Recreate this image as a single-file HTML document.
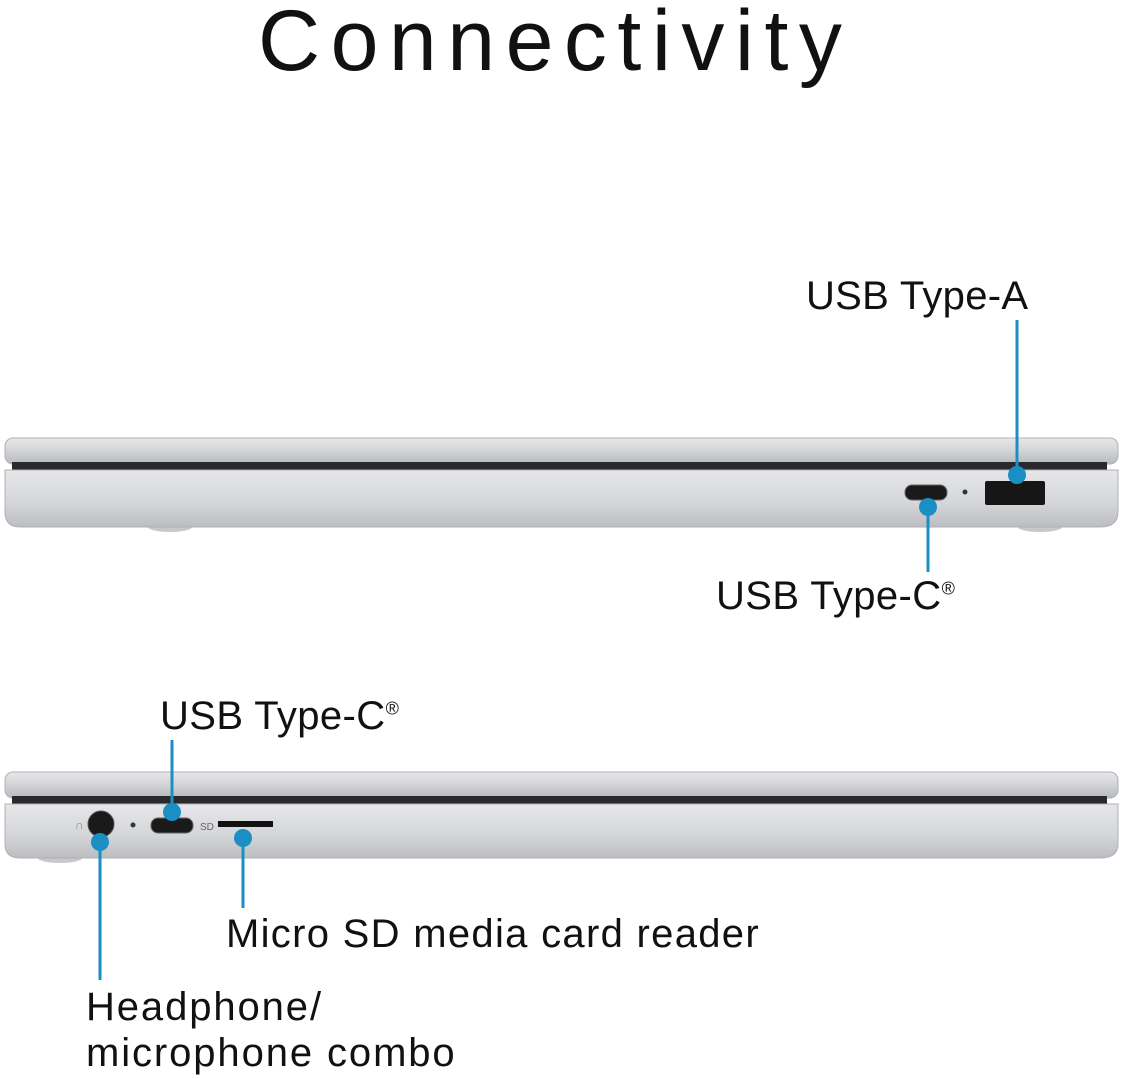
<!DOCTYPE html>
<html><head><style>
body{margin:0;background:#fff;width:1124px;height:1079px;overflow:hidden;font-family:"Liberation Sans",sans-serif}
.t{position:absolute;color:#111;white-space:nowrap}
</style></head><body>
<svg width="1124" height="1079" style="position:absolute;left:0;top:0">
<defs>
<linearGradient id="lid" x1="0" y1="0" x2="0" y2="1"><stop offset="0" stop-color="#e8e8ea"/><stop offset="0.5" stop-color="#d2d3d6"/><stop offset="1" stop-color="#b8b9bc"/></linearGradient>
<linearGradient id="base" x1="0" y1="0" x2="0" y2="1"><stop offset="0" stop-color="#e6e7e9"/><stop offset="0.6" stop-color="#d4d5d8"/><stop offset="1" stop-color="#bcbdc0"/></linearGradient>
</defs>
<ellipse cx="170" cy="527" rx="22" ry="5" fill="#c8c8ca"/><ellipse cx="1040" cy="527" rx="22" ry="5" fill="#c8c8ca"/>
<rect x="5" y="438" width="1113" height="26" rx="8" fill="url(#lid)" stroke="#aeb0b3"/>
<rect x="12" y="462" width="1095" height="9" fill="#2a2a2c"/>
<path d="M5 470 H1118 V512 Q1118 527 1100 527 H20 Q5 527 5 512 Z" fill="url(#base)" stroke="#aeb0b3"/>
<rect x="905" y="485" width="42" height="15" rx="7" fill="#1a1a1a" stroke="#666"/>
<circle cx="965" cy="492" r="2.5" fill="#333"/>
<rect x="985" y="481" width="60" height="24" rx="2" fill="#161616"/>
<ellipse cx="60" cy="858" rx="22" ry="5" fill="#c8c8ca"/>
<rect x="5" y="772" width="1113" height="26" rx="8" fill="url(#lid)" stroke="#aeb0b3"/>
<rect x="12" y="796" width="1095" height="9" fill="#2a2a2c"/>
<path d="M5 804 H1118 V844 Q1118 858 1100 858 H20 Q5 858 5 844 Z" fill="url(#base)" stroke="#aeb0b3"/>
<circle cx="101" cy="824" r="13" fill="#1a1a1a" stroke="#555"/>
<text x="75" y="829" font-size="12" fill="#888">∩</text>
<circle cx="133" cy="825" r="2.5" fill="#333"/>
<rect x="151" y="818" width="42" height="15" rx="7" fill="#1a1a1a" stroke="#666"/>
<text x="200" y="830" font-size="10" fill="#666" font-family="Liberation Sans">SD</text>
<rect x="218" y="821" width="55" height="6" fill="#111"/>
<g stroke="#1b8fc4" stroke-width="3" fill="#1b8fc4">
<line x1="1017" y1="320" x2="1017" y2="475"/><circle cx="1017" cy="475" r="9" stroke="none"/>
<line x1="928" y1="507" x2="928" y2="572"/><circle cx="928" cy="507" r="9" stroke="none"/>
<line x1="172" y1="740" x2="172" y2="812"/><circle cx="172" cy="812" r="9" stroke="none"/>
<line x1="100" y1="842" x2="100" y2="980"/><circle cx="100" cy="842" r="9" stroke="none"/>
<line x1="243" y1="838" x2="243" y2="908"/><circle cx="243" cy="838" r="9" stroke="none"/>
</g>
</svg>
<div class="t" style="left:258px;top:-8px;font-size:86px;letter-spacing:10.5px;font-weight:300">Connectivity</div>
<div class="t" style="left:806px;top:274px;font-size:40px;letter-spacing:0.3px">USB Type-A</div>
<div class="t" style="left:716px;top:574px;font-size:40px;letter-spacing:0.4px">USB Type-C<sup style="font-size:18px">®</sup></div>
<div class="t" style="left:160px;top:694px;font-size:40px;letter-spacing:0.4px">USB Type-C<sup style="font-size:18px">®</sup></div>
<div class="t" style="left:226px;top:912px;font-size:40px;letter-spacing:1.3px">Micro SD media card reader</div>
<div class="t" style="left:86px;top:984px;font-size:40px;letter-spacing:1.9px;line-height:46px">Headphone/<br>microphone combo</div>
</body></html>
